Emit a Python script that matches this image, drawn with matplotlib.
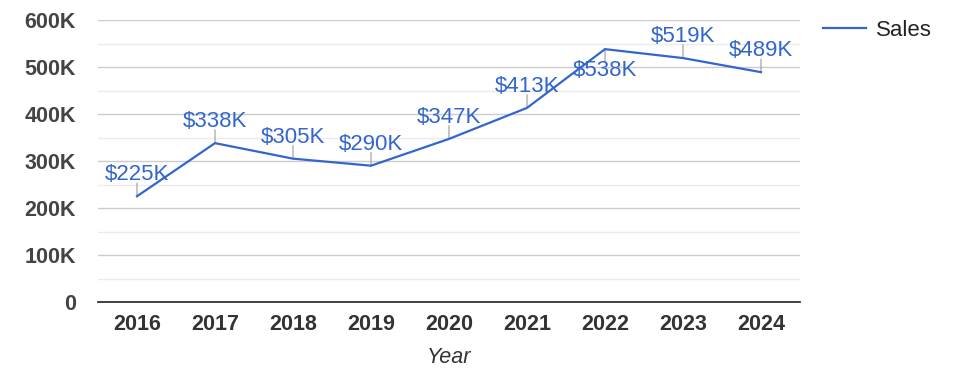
import matplotlib
matplotlib.use("Agg")
import matplotlib.pyplot as plt
from matplotlib.ticker import MultipleLocator, FuncFormatter

plt.rcParams['font.family'] = ['Liberation Sans', 'DejaVu Sans']

# Data (sales in thousands of dollars)
years = ['2016', '2017', '2018', '2019', '2020', '2021', '2022', '2023', '2024']
sales = [225, 338, 305, 290, 347, 413, 538, 519, 489]
labels = ['$225K', '$338K', '$305K', '$290K', '$347K', '$413K', '$538K', '$519K', '$489K']
label_below = [False, False, False, False, False, False, True, False, False]

blue = '#3366cc'

fig = plt.figure(figsize=(9.75, 3.78), dpi=100)
ax = fig.add_axes([98 / 975, 76 / 378, 702 / 975, 282 / 378])

xs = list(range(len(years)))
line, = ax.plot(xs, sales, color=blue, lw=1.6, label='Sales', zorder=3, solid_joinstyle='miter')

# data labels with small stems
for x, y, txt, below in zip(xs, sales, labels, label_below):
    sign = -1 if below else 1
    ax.annotate('', xy=(x, y), xytext=(0, sign * 9.5), textcoords='offset points',
                arrowprops=dict(arrowstyle='-', color='#999999', lw=0.8, shrinkA=0, shrinkB=0),
                zorder=2)
    ax.annotate(txt, xy=(x, y), xytext=(0, sign * (11.5 if not below else 8)),
                textcoords='offset points',
                ha='center', va='top' if below else 'baseline', color=blue,
                fontsize=16, zorder=4)

ax.set_xlim(-0.5, len(years) - 0.5)
ax.set_ylim(0, 600)
ax.set_xticks(xs)
ax.set_xticklabels(years, fontsize=15.5, fontweight='bold', color='#333333')
ax.yaxis.set_major_locator(MultipleLocator(100))
ax.yaxis.set_minor_locator(MultipleLocator(50))
ax.yaxis.set_major_formatter(FuncFormatter(lambda v, p: '0' if v == 0 else f'{int(v)}K'))
for t in ax.get_yticklabels():
    t.set_fontsize(15.5)
    t.set_fontweight('bold')
    t.set_color('#444444')

ax.tick_params(axis='y', which='both', length=0, pad=16)
ax.tick_params(axis='x', length=0, pad=9)
ax.grid(axis='y', which='major', color='#cccccc', lw=1)
ax.grid(axis='y', which='minor', color='#ebebeb', lw=1)
ax.set_axisbelow(True)
for s in ['top', 'right', 'left']:
    ax.spines[s].set_visible(False)
ax.spines['bottom'].set_color('#333333')
ax.spines['bottom'].set_linewidth(1.3)

ax.set_xlabel('Year', fontsize=15.5, style='italic', color='#333333', labelpad=8)

fig.legend(handles=[line], loc='center left', bbox_to_anchor=(823 / 975, 1 - 30 / 378),
           frameon=False, fontsize=16, handlelength=1.95, handletextpad=0.45,
           borderpad=0, borderaxespad=0, labelcolor='#222222')

fig.savefig('out.png', dpi=100)
